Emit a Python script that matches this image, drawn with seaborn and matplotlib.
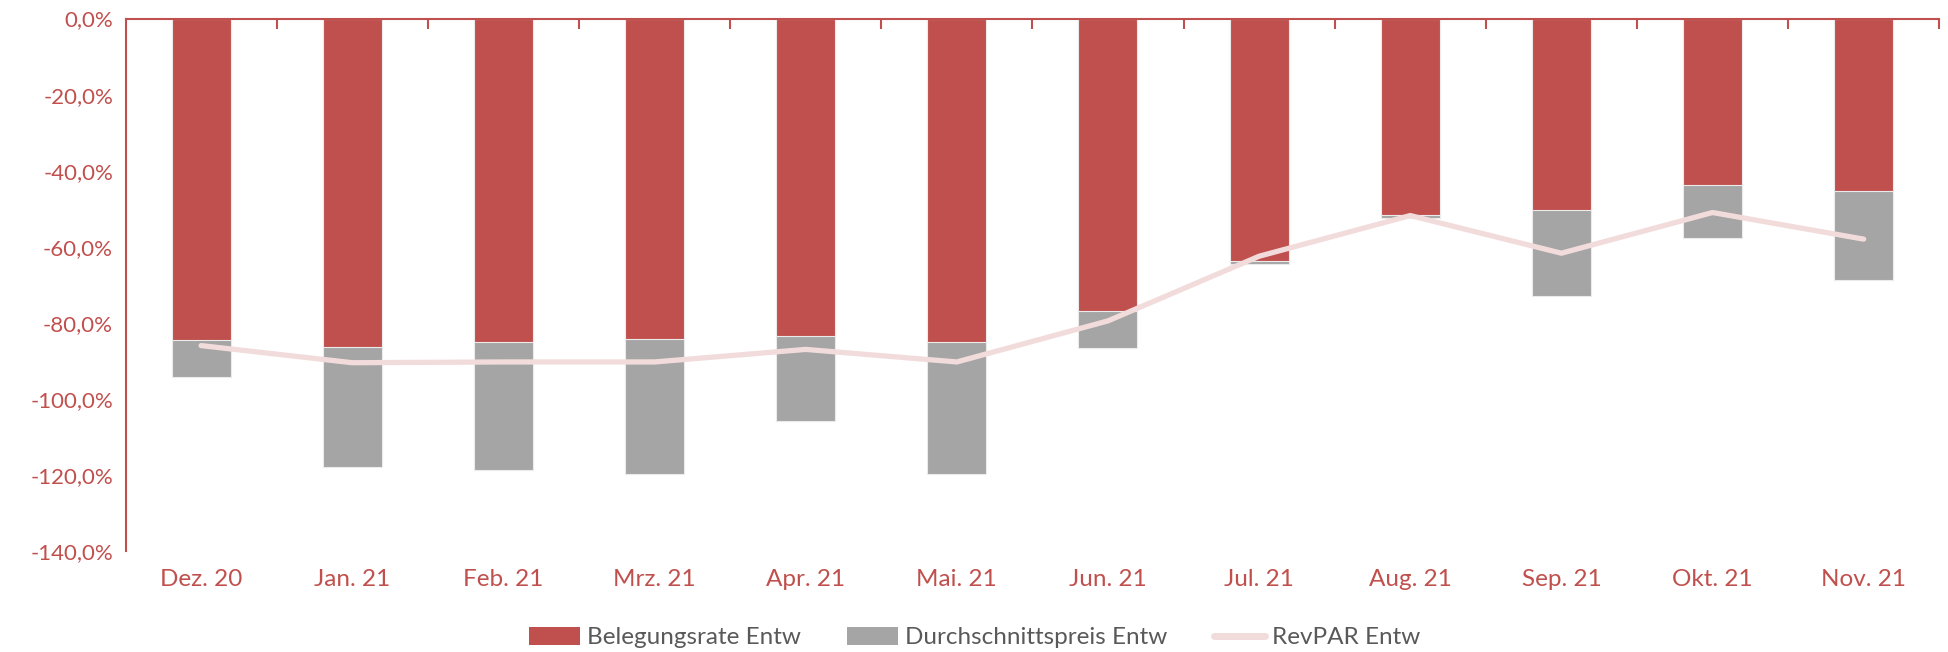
import numpy as np
import pandas as pd
import matplotlib
matplotlib.use("Agg")
import matplotlib.pyplot as plt
from matplotlib.patches import Patch
from matplotlib.lines import Line2D
from matplotlib.ticker import FuncFormatter, FixedLocator
import seaborn as sns

months = ["Dez. 20", "Jan. 21", "Feb. 21", "Mrz. 21", "Apr. 21", "Mai. 21",
          "Jun. 21", "Jul. 21", "Aug. 21", "Sep. 21", "Okt. 21", "Nov. 21"]
belegung = [-84.5, -86.3, -85.1, -84.3, -83.5, -85.1, -76.8, -63.8, -51.7, -50.4, -43.8, -45.3]
preis = [-9.8, -31.7, -33.7, -35.4, -22.4, -34.6, -9.9, -0.7, -0.8, -22.6, -13.8, -23.5]
revpar = [-86.0, -90.5, -90.3, -90.3, -87.0, -90.3, -79.5, -62.5, -51.8, -61.7, -51.0, -58.0]

RED = "#C0504D"
GREY = "#A5A5A5"
PINK = "#F2DCDB"
TXT = "#595959"

sns.set_theme(style="white")
plt.rcParams["font.family"] = ["Lato", "DejaVu Sans"]

df = pd.DataFrame({"Monat": months, "Belegung": belegung, "Preis": preis, "RevPAR": revpar})
df["Gesamt"] = df["Belegung"] + df["Preis"]

fig = plt.figure(figsize=(19.49, 6.52), dpi=100)
ax = fig.add_axes([0.0644, 0.155, 0.9306, 0.8165])

# grey segment = full stack, red drawn over it
sns.barplot(data=df, x="Monat", y="Gesamt", color=GREY, width=0.39,
            edgecolor="#ebebeb", linewidth=0.8, saturation=1, ax=ax)
sns.barplot(data=df, x="Monat", y="Belegung", color=RED, width=0.39,
            edgecolor="#ebebeb", linewidth=0.8, saturation=1, ax=ax)
sns.lineplot(x=np.arange(len(months)), y=df["RevPAR"], color=PINK, linewidth=3.8,
             solid_capstyle="round", ax=ax)

ax.set_xlim(-0.5, len(months) - 0.5)
ax.set_ylim(-140, 0)
ax.set_yticks(np.arange(-140, 1, 20))
ax.yaxis.set_major_formatter(FuncFormatter(lambda v, p: f"{v:.1f}%".replace(".", ",")))
ax.set_xlabel("")
ax.set_ylabel("")

for s in ["right", "bottom"]:
    ax.spines[s].set_visible(False)
for s in ["left", "top"]:
    ax.spines[s].set_color(RED)
    ax.spines[s].set_linewidth(1.5)

ax.tick_params(axis="y", length=0, labelsize=16, labelcolor=RED, pad=9)
ax.tick_params(axis="x", which="major", length=0, labelsize=17.5, labelcolor=RED, pad=13)
ax.xaxis.set_minor_locator(FixedLocator(np.arange(0.5, len(months), 1)))
ax.tick_params(axis="x", which="minor", bottom=False, top=True, direction="in",
               length=7, width=1.5, color=RED)

handles = [Patch(facecolor=RED, edgecolor="none"),
           Patch(facecolor=GREY, edgecolor="none"),
           Line2D([0], [0], color=PINK, linewidth=5, solid_capstyle="round")]
leg = fig.legend(handles, ["Belegungsrate Entw", "Durchschnittspreis Entw", "RevPAR Entw"],
                 loc="center", bbox_to_anchor=(0.5, 0.022), ncol=3, frameon=False,
                 fontsize=17.5, handlelength=2.1, handleheight=0.75, handletextpad=0.3,
                 columnspacing=1.9)
for t in leg.get_texts():
    t.set_color(TXT)

fig.savefig("out.png", dpi=100)
